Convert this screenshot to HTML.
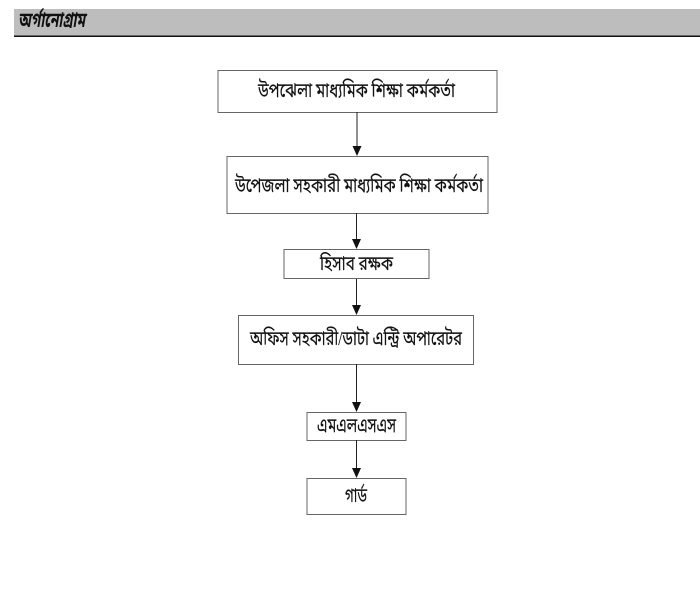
<!DOCTYPE html>
<html lang="bn">
<head>
<meta charset="utf-8">
<title>অর্গানোগ্রাম</title>
<style>
html,body{margin:0;padding:0;background:#fff;width:700px;height:600px;overflow:hidden}
svg{display:block}
text{font-family:"Liberation Serif","Noto Sans Bengali","Lohit Bengali","FreeSerif",serif;fill:#111}
</style>
</head>
<body>
<svg xmlns="http://www.w3.org/2000/svg" width="700" height="600" viewBox="0 0 700 600">
  <rect x="14" y="9" width="686" height="27" fill="#bdbdbd"/>
  <rect x="14" y="35.5" width="686" height="1.5" fill="#111"/>
  <text x="18" y="27" font-size="21" font-weight="bold" font-style="italic" textLength="67" lengthAdjust="spacingAndGlyphs">অর্গানোগ্রাম</text>

  <g fill="#fff" stroke="#666" stroke-width="1">
    <rect x="218" y="70.5" width="279" height="42"/>
    <rect x="227" y="156.5" width="261" height="57"/>
    <rect x="284" y="249.5" width="145" height="29"/>
    <rect x="238.5" y="315.5" width="235" height="49"/>
    <rect x="307" y="412.5" width="99" height="28"/>
    <rect x="307" y="478.5" width="99" height="36"/>
  </g>

  <g stroke="#222" stroke-width="1">
    <line x1="357" y1="112" x2="357" y2="148"/>
    <line x1="356.5" y1="213" x2="356.5" y2="241"/>
    <line x1="356.5" y1="279" x2="356.5" y2="307"/>
    <line x1="356.5" y1="364" x2="356.5" y2="404"/>
    <line x1="356.5" y1="440" x2="356.5" y2="470"/>
  </g>
  <g fill="#111">
    <polygon points="352.5,146 361.5,146 357,156"/>
    <polygon points="352,239 361,239 356.5,249"/>
    <polygon points="352,305 361,305 356.5,315"/>
    <polygon points="352,402 361,402 356.5,412"/>
    <polygon points="352,468 361,468 356.5,478"/>
  </g>

  <g font-size="20" stroke="#111" stroke-width="0.15">
    <text x="258" y="97" textLength="197" lengthAdjust="spacingAndGlyphs">উপঝেলা মাধ্যমিক শিক্ষা কর্মকর্তা</text>
    <text x="235" y="192" textLength="248" lengthAdjust="spacingAndGlyphs">উপেজলা সহকারী মাধ্যমিক শিক্ষা কর্মকর্তা</text>
    <text x="320" y="270" textLength="73" lengthAdjust="spacingAndGlyphs">হিসাব রক্ষক</text>
    <text x="250" y="345" textLength="212" lengthAdjust="spacingAndGlyphs">অফিস সহকারী/ডাটা এন্ট্রি অপারেটর</text>
    <text x="317" y="432" textLength="79" lengthAdjust="spacingAndGlyphs">এমএলএসএস</text>
    <text x="345" y="502" textLength="22" lengthAdjust="spacingAndGlyphs">গার্ড</text>
  </g>
</svg>
</body>
</html>
